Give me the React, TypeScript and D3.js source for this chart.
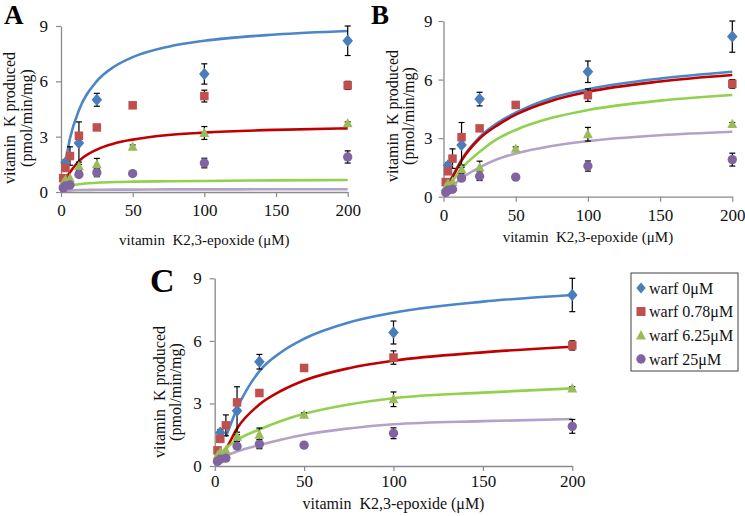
import React, { useEffect, useRef } from "react";
import * as d3 from "d3";

// ---------- data ----------
const X_TICKS = [0, 50, 100, 150, 200];
const Y_TICKS = [0, 3, 6, 9];

const CONC = [1.5625, 3.125, 6.25, 12.5, 25, 50, 100, 200];

const BLUE_X = [3.125, 12.5, 25, 100, 200];
const BLUE_Y = [1.6, 2.65, 5.0, 6.4, 8.2];
const BLUE_ERR = [0.15, 1.15, 0.35, 0.55, 0.8];

const RED_Y = [0.75, 1.3, 1.95, 3.05, 3.5, 4.7, 5.2, 5.78];
const RED_ERR = [0, 0.15, 0.5, 0, 0, 0.08, 0.32, 0.22];

const GREEN_Y = [0.5, 0.65, 0.75, 1.4, 1.5, 2.45, 3.2, 3.72];
const GREEN_ERR = [0, 0, 0, 0.22, 0.32, 0.1, 0.35, 0.08];

const PURPLE_Y = [0.22, 0.33, 0.38, 0.95, 1.05, 1.0, 1.57, 1.9];
const PURPLE_ERR = [0, 0, 0, 0, 0.22, 0, 0.26, 0.33];

// fitted curves
const CURVE_X = [3.125, 6.25, 12.5, 25, 37.5, 50, 75, 100, 150, 200];
const CURVE_X_C_BLUE = [6.25, 12.5, 25, 37.5, 50, 75, 100, 150, 200];

const A_BLUE = [1.6, 2.9, 4.43, 6.01, 6.82, 7.31, 7.88, 8.2, 8.54, 8.73];
const A_RED = [0.7, 1.07, 1.67, 2.3, 2.64, 2.84, 3.09, 3.22, 3.37, 3.45];
const A_GREEN = [0.2, 0.33, 0.42, 0.5, 0.54, 0.56, 0.58, 0.6, 0.63, 0.65];
const A_PURPLE = [0.06, 0.09, 0.11, 0.12, 0.13, 0.13, 0.14, 0.14, 0.15, 0.15];

const B_BLUE = [0.62, 1.05, 1.9, 3.05, 3.78, 4.3, 5.06, 5.5, 6.05, 6.4];
const B_RED = [0.58, 1.0, 1.85, 2.98, 3.67, 4.2, 4.92, 5.37, 5.9, 6.23];
const B_GREEN = [0.45, 0.8, 1.44, 2.3, 2.97, 3.42, 4.04, 4.44, 4.92, 5.21];
const B_PURPLE = [0.3, 0.55, 0.95, 1.5, 1.93, 2.21, 2.6, 2.85, 3.15, 3.33];

const C_BLUE = [1.4, 2.75, 4.55, 5.48, 6.1, 6.88, 7.35, 7.88, 8.2];
const C_RED = [0.4, 0.8, 1.8, 2.95, 3.62, 4.1, 4.69, 5.05, 5.45, 5.72];
const C_GREEN = [0.6, 0.85, 1.25, 1.75, 2.17, 2.5, 2.95, 3.25, 3.52, 3.72];
const C_PURPLE = [0.33, 0.48, 0.7, 1.0, 1.27, 1.5, 1.8, 2.0, 2.15, 2.25];

const LEGEND_LABELS = ["warf 0μM", "warf 0.78μM", "warf 6.25μM", "warf 25μM"];

// ---------- style ----------
const FONT = "'Liberation Serif', 'Times New Roman', serif";
const AXIS_COLOR = "#8a8a8a";
const MARK = { blue: "#4a7ebb", red: "#c0504d", green: "#9bbb59", purple: "#8064a2" };
const LINE = { blue: "#4a86c8", red: "#c00000", green: "#92d050", purple: "#b3a2c7" };

type Curve = { xs: number[]; ys: number[]; color: string };

type PanelProps = {
  letter: string;
  letterX: number;
  letterY: number;
  letterSize: number;
  x0: number;
  x1: number;
  y0: number;
  y1: number;
  xPad: number;
  yPad: number;
  ytx1: number;
  ytx2: number;
  ytCenter: number;
  xtY: number;
  xtSize: number;
  curves: Curve[];
};

function Marker({ kind, cx, cy, s }: { kind: string; cx: number; cy: number; s: number }) {
  if (kind === "diamond") {
    const r = s * 0.62;
    return (
      <path
        d={`M${cx},${cy - r}L${cx + r * 0.85},${cy}L${cx},${cy + r}L${cx - r * 0.85},${cy}Z`}
        fill={MARK.blue}
      />
    );
  }
  if (kind === "square") {
    const h = s * 0.5;
    return <rect x={cx - h} y={cy - h} width={2 * h} height={2 * h} fill={MARK.red} />;
  }
  if (kind === "triangle") {
    const h = s * 0.55;
    return (
      <path
        d={`M${cx},${cy - h * 1.1}L${cx + h},${cy + h * 0.8}L${cx - h},${cy + h * 0.8}Z`}
        fill={MARK.green}
      />
    );
  }
  return <circle cx={cx} cy={cy} r={s * 0.52} fill={MARK.purple} />;
}

function Panel(p: PanelProps) {
  const xRef = useRef<SVGGElement>(null);
  const yRef = useRef<SVGGElement>(null);
  const x = d3.scaleLinear().domain([0, 200]).range([p.x0, p.x1]);
  const y = d3.scaleLinear().domain([0, 9]).range([p.y0, p.y1]);

  useEffect(() => {
    const gx = d3.select(xRef.current!);
    gx.selectAll("*").remove();
    gx.call(
      d3.axisBottom(x).tickValues(X_TICKS).tickSize(5).tickSizeOuter(0).tickPadding(p.xPad).tickFormat(d3.format("d")) as any
    );
    const gy = d3.select(yRef.current!);
    gy.selectAll("*").remove();
    gy.call(
      d3.axisLeft(y).tickValues(Y_TICKS).tickSize(5).tickSizeOuter(0).tickPadding(p.yPad).tickFormat(d3.format("d")) as any
    );
    [gx, gy].forEach((g) => {
      g.select(".domain").attr("stroke", AXIS_COLOR).attr("stroke-width", 1.3);
      g.selectAll(".tick line").attr("stroke", AXIS_COLOR).attr("stroke-width", 1.2);
      g.selectAll(".tick text")
        .attr("fill", "#111")
        .attr("font-family", FONT)
        .attr("font-size", 17);
    });
  });

  const line = d3
    .line<[number, number]>()
    .x((d) => x(d[0]))
    .y((d) => y(d[1]))
    .curve(d3.curveMonotoneX);

  const series = [
    { kind: "diamond", xs: BLUE_X, ys: BLUE_Y, err: BLUE_ERR, s: 10 },
    { kind: "square", xs: CONC, ys: RED_Y, err: RED_ERR, s: 8.5 },
    { kind: "triangle", xs: CONC, ys: GREEN_Y, err: GREEN_ERR, s: 9 },
    { kind: "circle", xs: CONC, ys: PURPLE_Y, err: PURPLE_ERR, s: 9 },
  ];

  return (
    <g>
      <text x={p.letterX} y={p.letterY} fontFamily={FONT} fontWeight="bold" fontSize={p.letterSize} fill="#000">
        {p.letter}
      </text>
      {p.curves.map((c, i) => (
        <path
          key={i}
          d={line(c.xs.map((v, j) => [v, c.ys[j]] as [number, number]))!}
          fill="none"
          stroke={c.color}
          strokeWidth={2.6}
        />
      ))}
      <g ref={yRef} transform={`translate(${p.x0},0)`} />
      <g ref={xRef} transform={`translate(0,${p.y0})`} />
      {series.map((s, si) => (
        <g key={si}>
          {s.xs.map((v, j) =>
            s.err[j] > 0 ? (
              <g key={"e" + j} stroke="#000" strokeWidth={1.2}>
                <line x1={x(v)} x2={x(v)} y1={y(s.ys[j] - s.err[j])} y2={y(s.ys[j] + s.err[j])} />
                <line x1={x(v) - 3} x2={x(v) + 3} y1={y(s.ys[j] - s.err[j])} y2={y(s.ys[j] - s.err[j])} />
                <line x1={x(v) - 3} x2={x(v) + 3} y1={y(s.ys[j] + s.err[j])} y2={y(s.ys[j] + s.err[j])} />
              </g>
            ) : null
          )}
        </g>
      ))}
      {series.map((s, si) => (
        <g key={"m" + si}>
          {s.xs.map((v, j) => (
            <Marker key={j} kind={s.kind} cx={x(v)} cy={y(s.ys[j])} s={s.s} />
          ))}
        </g>
      ))}
      <text
        x={(p.x0 + p.x1) / 2}
        y={p.xtY}
        textAnchor="middle"
        fontFamily={FONT}
        fontSize={p.xtSize}
        fill="#111"
        style={{ whiteSpace: "pre" }}
      >
        {"vitamin  K2,3-epoxide (μM)"}
      </text>
      <text
        transform={`translate(${p.ytx1},${p.ytCenter}) rotate(-90)`}
        textAnchor="middle"
        fontFamily={FONT}
        fontSize={16}
        fill="#111"
        style={{ whiteSpace: "pre" }}
      >
        {"vitamin  K produced"}
      </text>
      <text
        transform={`translate(${p.ytx2},${p.ytCenter}) rotate(-90)`}
        textAnchor="middle"
        fontFamily={FONT}
        fontSize={16}
        fill="#111"
      >
        (pmol/min/mg)
      </text>
    </g>
  );
}

export default function App() {
  const legendKinds = ["diamond", "square", "triangle", "circle"];
  const legendY = [288, 311.5, 335.5, 359];
  return (
    <svg
      width={745}
      height={516}
      style={{ position: "absolute", left: 0, top: 0, background: "#fff" }}
    >
      <rect width={745} height={516} fill="#fff" />
      <Panel
        letter="A"
        letterX={4}
        letterY={24}
        letterSize={27}
        x0={61}
        x1={347.7}
        y0={192}
        y1={26}
        xPad={7}
        yPad={8}
        ytx1={15}
        ytx2={32}
        ytCenter={118}
        xtY={245}
        xtSize={15}
        curves={[
          { xs: CURVE_X, ys: A_BLUE, color: LINE.blue },
          { xs: CURVE_X, ys: A_RED, color: LINE.red },
          { xs: CURVE_X, ys: A_GREEN, color: LINE.green },
          { xs: CURVE_X, ys: A_PURPLE, color: LINE.purple },
        ]}
      />
      <Panel
        letter="B"
        letterX={371}
        letterY={24}
        letterSize={27}
        x0={443.5}
        x1={732.3}
        y0={196.7}
        y1={21}
        xPad={7}
        yPad={6}
        ytx1={398}
        ytx2={414}
        ytCenter={116}
        xtY={242}
        xtSize={15}
        curves={[
          { xs: CURVE_X, ys: B_BLUE, color: LINE.blue },
          { xs: CURVE_X, ys: B_RED, color: LINE.red },
          { xs: CURVE_X, ys: B_GREEN, color: LINE.green },
          { xs: CURVE_X, ys: B_PURPLE, color: LINE.purple },
        ]}
      />
      <Panel
        letter="C"
        letterX={150}
        letterY={292}
        letterSize={34}
        x0={214.7}
        x1={572.3}
        y0={466}
        y1={278.3}
        xPad={4}
        yPad={8}
        ytx1={165}
        ytx2={181}
        ytCenter={392}
        xtY={509}
        xtSize={16}
        curves={[
          { xs: CURVE_X_C_BLUE, ys: C_BLUE, color: LINE.blue },
          { xs: CURVE_X, ys: C_RED, color: LINE.red },
          { xs: CURVE_X, ys: C_GREEN, color: LINE.green },
          { xs: CURVE_X, ys: C_PURPLE, color: LINE.purple },
        ]}
      />
      <g>
        <rect x={631} y={273} width={107} height={98} fill="#fff" stroke="#404040" strokeWidth={1} />
        {LEGEND_LABELS.map((lab, i) => (
          <g key={i}>
            <Marker kind={legendKinds[i]} cx={641} cy={legendY[i]} s={9} />
            <text x={649} y={legendY[i] + 5.5} fontFamily={FONT} fontSize={16} fill="#111">
              {lab}
            </text>
          </g>
        ))}
      </g>
    </svg>
  );
}
